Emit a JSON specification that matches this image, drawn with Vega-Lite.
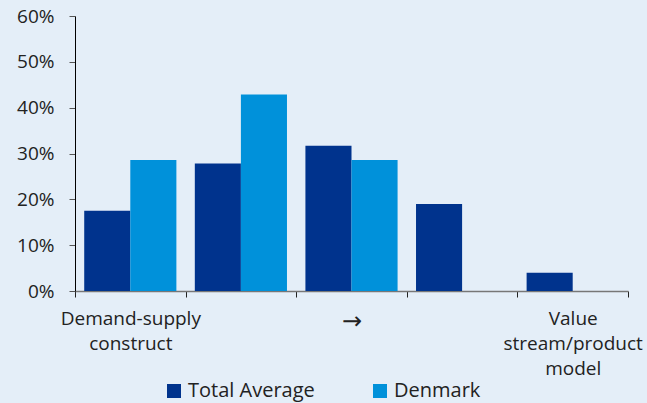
{
  "$schema": "https://vega.github.io/schema/vega-lite/v6.json",
  "autosize": "none",
  "width": 553,
  "height": 275,
  "padding": {"left": 75, "top": 16, "right": 19, "bottom": 112},
  "background": "#E4EEF8",
  "config": {
    "view": {"stroke": null},
    "font": "Open Sans"
  },
  "data": {
    "values": [
      {"cat": "Demand-supply construct", "series": "Total Average", "value": 0.175},
      {"cat": "Demand-supply construct", "series": "Denmark", "value": 0.286},
      {"cat": "c2", "series": "Total Average", "value": 0.278},
      {"cat": "c2", "series": "Denmark", "value": 0.429},
      {"cat": "→", "series": "Total Average", "value": 0.317},
      {"cat": "→", "series": "Denmark", "value": 0.286},
      {"cat": "c4", "series": "Total Average", "value": 0.19},
      {"cat": "c4", "series": "Denmark", "value": 0},
      {"cat": "Value stream/product model", "series": "Total Average", "value": 0.04},
      {"cat": "Value stream/product model", "series": "Denmark", "value": 0}
    ]
  },
  "mark": {"type": "bar"},
  "encoding": {
    "x": {
      "field": "cat",
      "type": "nominal",
      "sort": null,
      "scale": {"paddingInner": 0, "paddingOuter": 0},
      "axis": {
        "title": null,
        "labelAngle": 0,
        "tickBand": "extent",
        "tickSize": 6,
        "tickColor": "#222222",
        "domainColor": "#777777",
        "domainWidth": 1.5,
        "labelPadding": 12,
        "labelLineHeight": 25,
        "labelBaseline": "top",
        "labelFont": {"condition": {"test": "datum.value == '→'", "value": "DejaVu Sans"}, "value": "Open Sans"},
        "labelFontSize": {"condition": {"test": "datum.value == '→'", "value": 24}, "value": 19},
        "labelColor": "#222222",
        "labelOverlap": false,
        "labelExpr": "datum.value == 'Demand-supply construct' ? ['Demand-supply', 'construct'] : datum.value == 'Value stream/product model' ? ['Value', 'stream/product', 'model'] : datum.value == '→' ? '→' : ''"
      }
    },
    "xOffset": {
      "field": "series",
      "type": "nominal",
      "sort": ["Total Average", "Denmark"],
      "scale": {"paddingInner": 0, "paddingOuter": 0.2}
    },
    "y": {
      "field": "value",
      "type": "quantitative",
      "scale": {"domain": [0, 0.6]},
      "axis": {
        "title": null,
        "format": ".0%",
        "values": [0, 0.1, 0.2, 0.3, 0.4, 0.5, 0.6],
        "grid": false,
        "tickSize": 6,
        "tickColor": "#555555",
        "domainColor": "#000000",
        "labelPadding": 15,
        "labelFont": "Open Sans",
        "labelFontSize": 19,
        "labelColor": "#222222",
        "labelOverlap": false
      }
    },
    "color": {
      "field": "series",
      "type": "nominal",
      "sort": ["Total Average", "Denmark"],
      "scale": {"domain": ["Total Average", "Denmark"], "range": ["#00338D", "#0091DA"]},
      "legend": {
        "title": null,
        "orient": "none",
        "direction": "horizontal",
        "legendX": 89,
        "legendY": 365,
        "symbolType": "square",
        "symbolSize": 196,
        "symbolStrokeWidth": 0,
        "labelFontSize": 20,
        "labelColor": "#222222",
        "labelFont": "Open Sans",
        "labelOffset": 4,
        "columnPadding": 55
      }
    }
  }
}
